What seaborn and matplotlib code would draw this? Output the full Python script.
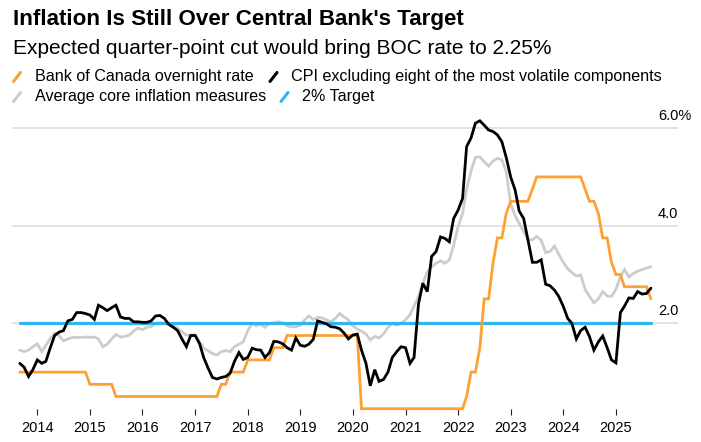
import pandas as pd
import matplotlib
matplotlib.use('Agg')
import matplotlib.pyplot as plt
import matplotlib.transforms as mtransforms
from matplotlib.lines import Line2D
import seaborn as sns

# monthly, Sep 2013 .. Sep 2025
dates = pd.date_range('2013-09-01', periods=145, freq='MS')

boc_rate = (
    [1.0] * 16 + [0.75] * 6 + [0.5] * 24 + [0.75] * 2 + [1.0] * 4 + [1.25] * 6
    + [1.5] * 3 + [1.75] * 17 + [0.25] * 24
    + [0.5, 1.0, 1.0, 1.5, 2.5, 2.5, 3.25, 3.75, 3.75, 4.25]
    + [4.5] * 5 + [4.75] + [5.0] * 11
    + [4.75, 4.5, 4.5, 4.25, 3.75, 3.75, 3.25, 3.0, 3.0]
    + [2.75] * 6 + [2.5]
)

cpix = [
    1.18, 1.10, 0.91, 1.05, 1.25, 1.18, 1.22, 1.50, 1.75, 1.82, 1.85, 2.05,
    2.08, 2.22, 2.22, 2.20, 2.17, 2.08, 2.37, 2.32, 2.26, 2.32, 2.37, 2.13,
    2.10, 2.10, 2.03, 2.03, 2.02, 2.02, 2.05, 2.15, 2.16, 2.10, 1.98, 1.92,
    1.85, 1.68, 1.52, 1.75, 1.75, 1.58, 1.30, 1.08, 0.89, 0.86, 0.89, 0.91,
    0.98, 1.22, 1.40, 1.26, 1.30, 1.49, 1.46, 1.45, 1.30, 1.40, 1.63, 1.62,
    1.58, 1.50, 1.45, 1.70, 1.55, 1.53, 1.57, 1.67, 2.05, 2.02, 1.99, 1.93,
    1.92, 1.89, 1.80, 1.68, 1.76, 1.78, 1.45, 1.18, 0.72, 1.05, 0.81, 0.85,
    1.00, 1.30, 1.42, 1.52, 1.50, 1.18, 1.30, 2.40, 2.82, 2.65, 3.37, 3.47,
    3.77, 3.74, 3.67, 4.15, 4.32, 4.56, 5.62, 5.80, 6.10, 6.15, 6.06, 5.96,
    5.93, 5.86, 5.72, 5.40, 5.00, 4.73, 4.30, 4.15, 3.71, 3.25, 3.25, 3.30,
    2.80, 2.77, 2.68, 2.55, 2.35, 2.10, 2.00, 1.68, 1.85, 1.92, 1.73, 1.45,
    1.62, 1.74, 1.50, 1.25, 1.19, 2.22, 2.35, 2.52, 2.51, 2.65, 2.60, 2.61,
    2.72,
]

core_avg = [
    1.45, 1.42, 1.45, 1.52, 1.58, 1.42, 1.55, 1.69, 1.80, 1.75, 1.64, 1.68,
    1.71, 1.71, 1.71, 1.72, 1.71, 1.72, 1.68, 1.52, 1.57, 1.68, 1.77, 1.72,
    1.73, 1.76, 1.84, 1.90, 1.87, 1.92, 1.93, 2.00, 2.01, 2.00, 1.98, 1.96,
    1.90, 1.82, 1.76, 1.76, 1.76, 1.62, 1.49, 1.44, 1.38, 1.35, 1.42, 1.44,
    1.42, 1.52, 1.57, 1.62, 1.85, 2.00, 1.95, 1.98, 1.92, 2.00, 2.01, 2.03,
    2.01, 1.95, 1.93, 1.93, 1.96, 2.07, 2.15, 2.08, 2.12, 2.11, 2.07, 2.03,
    2.10, 2.20, 2.13, 2.07, 1.95, 1.88, 1.84, 1.78, 1.66, 1.73, 1.70, 1.78,
    1.92, 2.00, 1.96, 2.00, 2.07, 2.18, 2.35, 2.55, 2.82, 3.05, 3.16, 3.23,
    3.28, 3.23, 3.30, 3.60, 3.98, 4.25, 4.75, 5.12, 5.40, 5.41, 5.31, 5.22,
    5.33, 5.38, 5.35, 5.10, 4.45, 4.20, 4.05, 3.88, 3.72, 3.71, 3.78, 3.70,
    3.45, 3.47, 3.58, 3.42, 3.25, 3.12, 3.04, 2.97, 2.99, 2.70, 2.55, 2.42,
    2.50, 2.65, 2.56, 2.55, 2.70, 2.95, 3.10, 2.95, 3.02, 3.07, 3.10, 3.13,
    3.16,
]

target = [2.0] * len(dates)

year_ticks = list(range(2014, 2026))
grid_levels = [2, 4, 6]
grid_labels = ['2.0', '4.0', '6.0%']

ORANGE = '#FFA033'
BLUE = '#2DB6F0'
GRAY = '#CCCCCC'
BLACK = '#000000'

sns.set_style('white')
plt.rcParams['font.family'] = ['Liberation Sans', 'DejaVu Sans']

W, H = 701, 442
fig = plt.figure(figsize=(W / 100, H / 100), dpi=100)


def fx(px):
    return px / W


def fy(py):
    return 1 - py / H


ax = fig.add_axes([fx(12), fy(409), 666 / W, 299 / H])

sns.lineplot(x=dates, y=core_avg, color=GRAY, lw=2.0, ax=ax, zorder=2)
sns.lineplot(x=dates, y=target, color=BLUE, lw=2.3, ax=ax, zorder=3)
sns.lineplot(x=dates, y=boc_rate, color=ORANGE, lw=2.0, ax=ax, zorder=4)
sns.lineplot(x=dates, y=cpix, color=BLACK, lw=2.0, ax=ax, zorder=5)
for ln in ax.get_lines():
    ln.set_clip_on(False)
    ln.set_solid_joinstyle('miter')

ax.set_xlim(pd.Timestamp('2013-07-09'), pd.Timestamp('2026-03-08'))
ax.set_ylim(0.244, 6.371)

ax.set_xticks([pd.Timestamp(f'{y}-01-01') for y in year_ticks])
ax.set_xticklabels([str(y) for y in year_ticks])
ax.tick_params(axis='x', length=4.3, width=0.8, color='#222222', pad=4,
               labelsize=10.5, labelcolor='#000000', bottom=True)
ax.set_yticks(grid_levels)
ax.tick_params(axis='y', length=0, labelleft=False)
ax.grid(axis='y', color='#DDDDDD', lw=1.2)
ax.set_axisbelow(True)
ax.set_xlabel('')
ax.set_ylabel('')
for s in ax.spines.values():
    s.set_visible(False)

blend = mtransforms.blended_transform_factory(ax.transAxes, ax.transData)
for lev, lab in zip(grid_levels, grid_labels):
    ax.text((658 - 12) / 666, lev + 0.16, lab, transform=blend, ha='left',
            va='baseline', fontsize=10.5, color='#000000')

fig.text(fx(12.6), fy(25), "Inflation Is Still Over Central Bank's Target",
         fontsize=16.1, fontweight='bold', va='baseline', color='#000000')
fig.text(fx(12.6), fy(54.3), 'Expected quarter-point cut would bring BOC rate to 2.25%',
         fontsize=15.0, va='baseline', color='#000000')

legend_items = [
    ('Bank of Canada overnight rate', ORANGE, 13.5, 35, 81),
    ('CPI excluding eight of the most volatile components', BLACK, 270, 291, 81),
    ('Average core inflation measures', GRAY, 13.5, 35, 101),
    ('2% Target', BLUE, 281, 302, 101),
]
for label, col, mx, tx, base in legend_items:
    fig.add_artist(Line2D([fx(mx), fx(mx + 7)], [fy(base + 0.5), fy(base - 8.5)],
                          color=col, lw=2.2, transform=fig.transFigure))
    fig.text(fx(tx), fy(base), label, fontsize=11.6, va='baseline', color='#000000')

fig.savefig('out.png', dpi=100)
